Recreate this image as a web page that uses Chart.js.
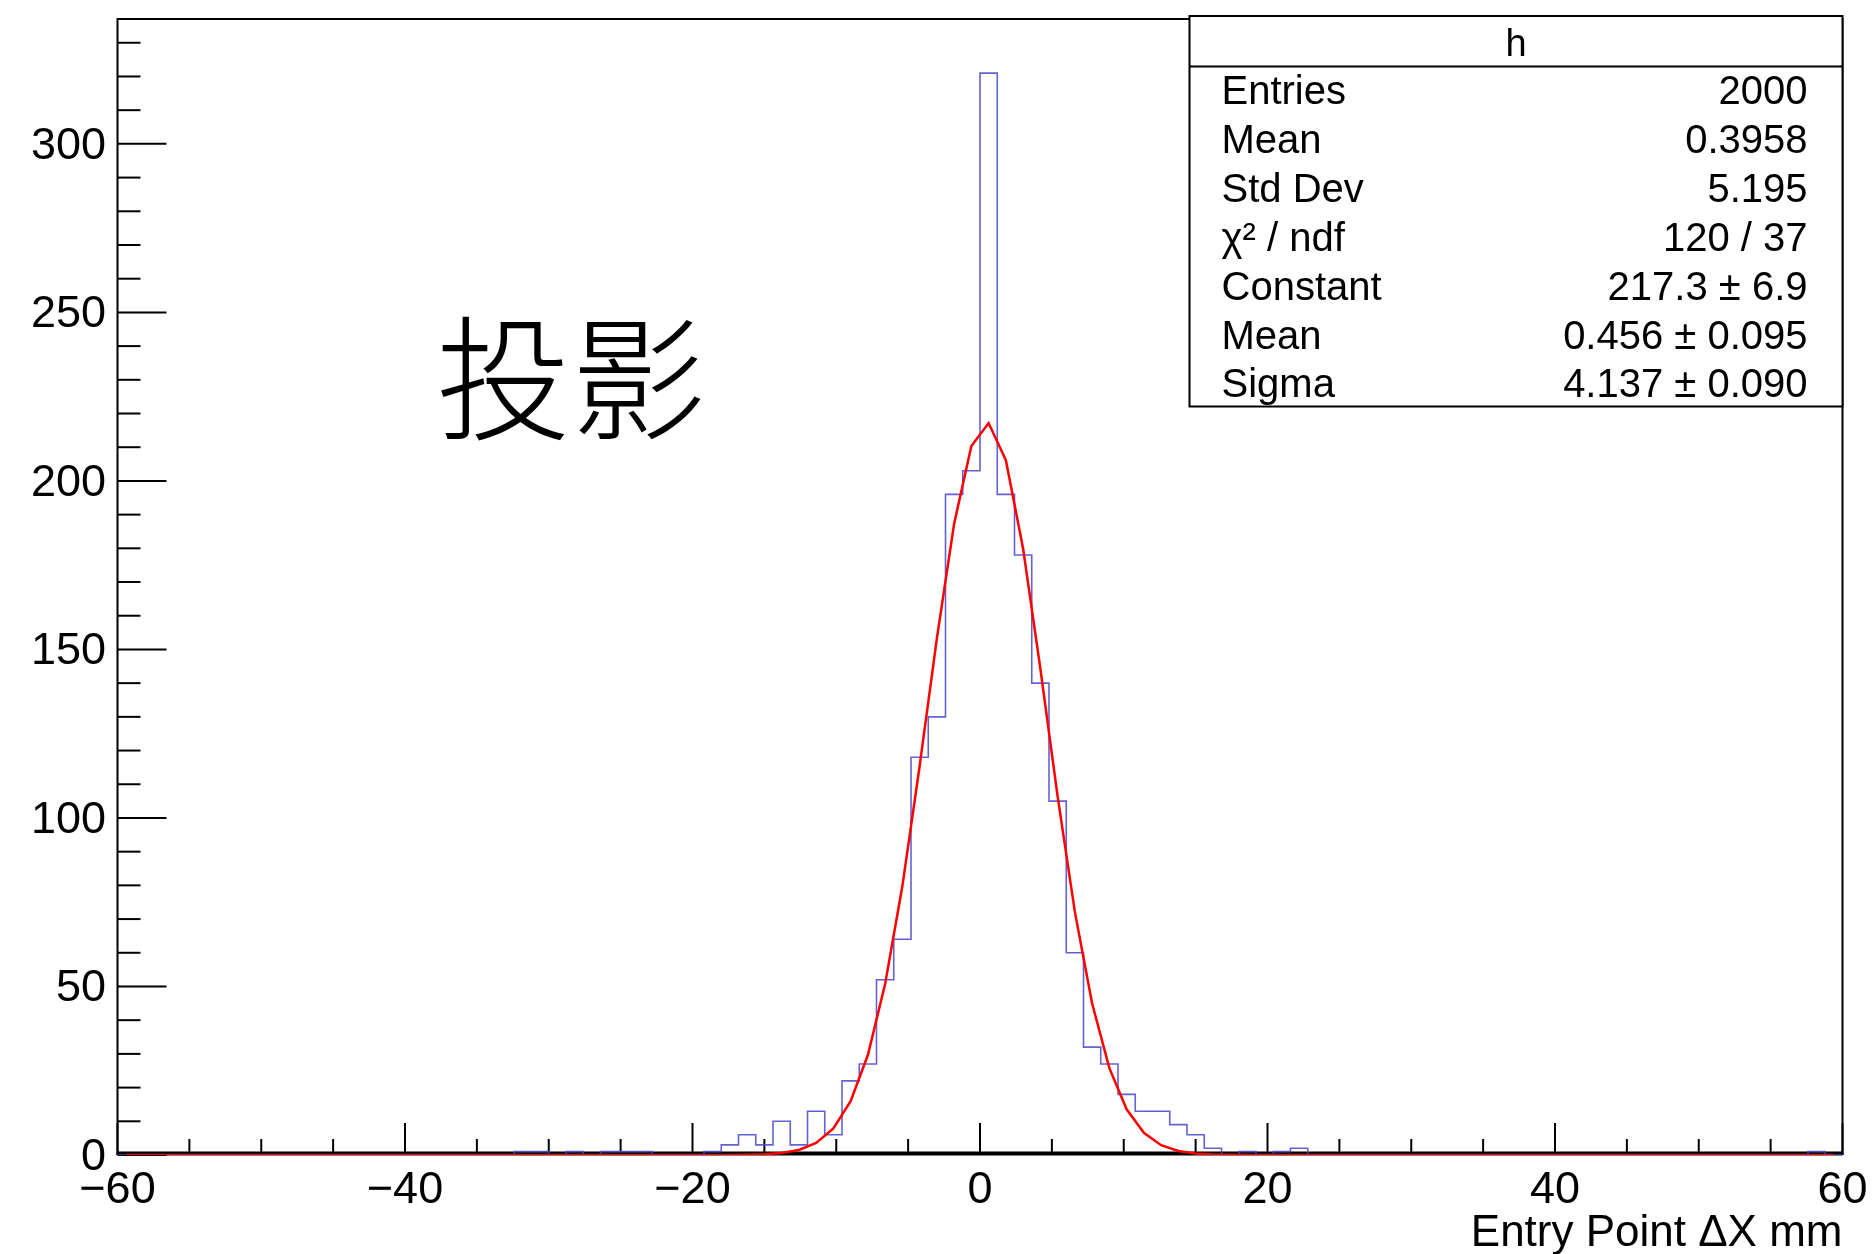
<!DOCTYPE html>
<html>
<head>
<meta charset="utf-8">
<title>Entry Point ΔX</title>
<script src="https://cdn.jsdelivr.net/npm/chart.js@4.4.1/dist/chart.umd.min.js"></script>
<style>
  html, body { margin: 0; padding: 0; background: #fff; }
  canvas { display: block; }
</style>
</head>
<body>
<canvas id="c" width="1875" height="1254" style="width:1875px;height:1254px"></canvas>
<script>
// Binning of the histogram "h": 100 bins of 1.2 mm between -60 and 60
const binLow = -60;
const binWidth = 1.2;
const binCount = 100;

// Entries per bin, left to right
const counts = [
  0, 0, 0, 0, 0, 0, 0, 0, 0, 0,              // -60.0 .. -48.0
  0, 0, 0, 0, 0, 0, 0, 0, 0, 0,              // -48.0 .. -36.0
  0, 0, 0, 1, 1, 0, 1, 0, 1, 1,              // -36.0 .. -24.0
  1, 0, 0, 0, 1, 3, 6, 3, 10, 3,             // -24.0 .. -12.0
  13, 6, 22, 27, 52, 64, 118, 130, 196, 203, // -12.0 ..   0.0
  321, 196, 178, 140, 105, 60, 32, 27, 18, 13, //  0.0 ..  12.0
  13, 9, 6, 2, 0, 1, 0, 1, 2, 0,             //  12.0 ..  24.0
  0, 0, 0, 0, 0, 0, 0, 0, 0, 0,              //  24.0 ..  36.0
  0, 0, 0, 0, 0, 0, 0, 0, 0, 0,              //  36.0 ..  48.0
  0, 0, 0, 0, 0, 0, 0, 0, 1, 0               //  48.0 ..  60.0
];

// Gaussian fit result
const fitConstant = 217.3, fitConstantErr = 6.9;
const fitMean = 0.456, fitMeanErr = 0.095;
const fitSigma = 4.137, fitSigmaErr = 0.090;
const fitChi2 = 120, fitNdf = 37;

// Histogram statistics
const statEntries = 2000;
const statMean = 0.3958;
const statStdDev = 5.195;

// Axis ticks
const xMajorTicks = [-60, -40, -20, 0, 20, 40, 60];
const xMinorStep = 5;
const yMajorTicks = [0, 50, 100, 150, 200, 250, 300];
const yMinorStep = 10;

const histTitle = 'h';
const xAxisTitle = 'Entry Point \u0394X mm';
const noteText = '投影';

const FONT = '"Liberation Sans", Arial, Helvetica, sans-serif';

// ---- derived series ----
const histPoints = counts.map((c, i) => ({ x: binLow + i * binWidth, y: c }));
histPoints.push({ x: binLow + binCount * binWidth, y: counts[binCount - 1] });

// fit function sampled at bin centres, as the fitting package draws it
const gauss = x => fitConstant * Math.exp(-0.5 * Math.pow((x - fitMean) / fitSigma, 2));
const fitPoints = counts.map((_, i) => {
  const x = binLow + (i + 0.5) * binWidth;
  return { x, y: gauss(x) };
});

const xMin = binLow, xMax = binLow + binCount * binWidth;
const yMax = 1.05 * Math.max(...counts);

const xTickValues = [];
for (let v = xMin; v <= xMax; v += xMinorStep) xTickValues.push(v);
const yTickValues = [];
for (let v = 0; v <= yMax; v += yMinorStep) yTickValues.push(v);

const fmtX = v => (v < 0 ? '\u2212' + Math.abs(v) : String(v));

// Frame and inward tick marks
const frameAndTicks = {
  id: 'frameAndTicks',
  beforeDatasetsDraw(chart) {
    const { ctx, chartArea: a } = chart;
    const xs = chart.scales.x, ys = chart.scales.y;
    ctx.save();
    ctx.strokeStyle = '#000';
    ctx.lineCap = 'butt';
    // bottom axis
    ctx.lineWidth = 4;
    ctx.beginPath();
    ctx.moveTo(a.left, a.bottom - 1.5);
    ctx.lineTo(a.right, a.bottom - 1.5);
    ctx.stroke();
    // left axis, top and right frame
    ctx.lineWidth = 2;
    ctx.beginPath();
    ctx.moveTo(a.left, a.bottom);
    ctx.lineTo(a.left, a.top);
    ctx.lineTo(a.right, a.top);
    ctx.lineTo(a.right, a.bottom);
    ctx.stroke();
    // x ticks
    xs.ticks.forEach(t => {
      const px = xs.getPixelForValue(t.value);
      const len = xMajorTicks.includes(t.value) ? 32 : 16;
      ctx.beginPath();
      ctx.moveTo(px, a.bottom);
      ctx.lineTo(px, a.bottom - len);
      ctx.stroke();
    });
    // y ticks
    ys.ticks.forEach(t => {
      const py = ys.getPixelForValue(t.value);
      const len = yMajorTicks.includes(t.value) ? 49 : 23;
      ctx.beginPath();
      ctx.moveTo(a.left, py);
      ctx.lineTo(a.left + len, py);
      ctx.stroke();
    });
    ctx.restore();
  }
};

// Statistics box and annotation text
const statsBox = {
  id: 'statsBox',
  afterDraw(chart) {
    const { ctx, chartArea: a } = chart;
    ctx.save();

    // annotation
    ctx.fillStyle = '#000';
    ctx.font = '300 135px "Noto Sans CJK SC"';
    ctx.textAlign = 'left';
    ctx.textBaseline = 'middle';
    ctx.fillText(noteText, 436, 379);

    const left = 1189.5, right = a.right, top = 16, bottom = 406.5, sep = 66.5;
    ctx.fillStyle = '#fff';
    ctx.fillRect(left, top, right - left, bottom - top);
    ctx.strokeStyle = '#000';
    ctx.lineWidth = 2;
    ctx.strokeRect(left, top, right - left, bottom - top);
    ctx.beginPath();
    ctx.moveTo(left, sep);
    ctx.lineTo(right, sep);
    ctx.stroke();

    ctx.fillStyle = '#000';
    ctx.textBaseline = 'alphabetic';
    ctx.textAlign = 'center';
    ctx.font = '38px ' + FONT;
    ctx.fillText(histTitle, (left + right) / 2, 56);

    const pm = (v, e) => v + ' \u00B1 ' + e;
    const rows = [
      ['Entries', String(statEntries)],
      ['Mean', statMean.toFixed(4)],
      ['Std Dev', statStdDev.toFixed(3)],
      ['\u03C7\u00B2 / ndf', fitChi2 + ' / ' + fitNdf],
      ['Constant', pm(fitConstant.toFixed(1), fitConstantErr.toFixed(1))],
      ['Mean', pm(fitMean.toFixed(3), fitMeanErr.toFixed(3))],
      ['Sigma', pm(fitSigma.toFixed(3), fitSigmaErr.toFixed(3))]
    ];
    ctx.font = '40px ' + FONT;
    rows.forEach((r, i) => {
      const y = 104 + i * 48.9;
      ctx.textAlign = 'left';
      ctx.fillText(r[0], 1221.5, y);
      ctx.textAlign = 'right';
      ctx.fillText(r[1], 1807.5, y);
    });
    ctx.restore();
  }
};

new Chart(document.getElementById('c'), {
  type: 'line',
  data: {
    datasets: [
      {
        label: 'h',
        data: histPoints,
        stepped: 'before',
        borderColor: 'rgba(70, 70, 205, 0.85)',
        borderWidth: 1.6,
        pointRadius: 0,
        fill: false,
        order: 2
      },
      {
        label: 'gaus',
        data: fitPoints,
        borderColor: '#ff0000',
        borderWidth: 2.5,
        pointRadius: 0,
        tension: 0,
        fill: false,
        order: 1
      }
    ]
  },
  options: {
    responsive: false,
    animation: false,
    devicePixelRatio: 1,
    layout: { padding: { top: 19, right: 32.5, left: 0, bottom: 0 } },
    plugins: {
      legend: { display: false },
      tooltip: { enabled: false },
      title: { display: false }
    },
    scales: {
      x: {
        type: 'linear',
        min: xMin,
        max: xMax,
        afterBuildTicks: s => { s.ticks = xTickValues.map(v => ({ value: v })); },
        ticks: {
          autoSkip: false,
          maxRotation: 0,
          minRotation: 0,
          padding: 8.5,
          color: '#000',
          font: { family: FONT, size: 45 },
          callback: v => (xMajorTicks.includes(v) ? fmtX(v) : '')
        },
        grid: { display: false, drawTicks: false },
        border: { display: false },
        title: {
          display: true,
          text: xAxisTitle,
          align: 'end',
          color: '#000',
          font: { family: FONT, size: 44, lineHeight: 1 },
          padding: { top: 0, bottom: -2 }
        },
        afterFit: s => { s.height = 99; s.paddingLeft = 0; s.paddingRight = 0; }
      },
      y: {
        type: 'linear',
        min: 0,
        max: yMax,
        afterBuildTicks: s => { s.ticks = yTickValues.map(v => ({ value: v })); },
        ticks: {
          autoSkip: false,
          padding: 11.5,
          labelOffset: 2.5,
          color: '#000',
          font: { family: FONT, size: 45, lineHeight: 1 },
          callback: v => (yMajorTicks.includes(v) ? String(v) : '')
        },
        grid: { display: false, drawTicks: false },
        border: { display: false },
        afterFit: s => { s.width = 117.5; s.paddingTop = 0; s.paddingBottom = 0; }
      }
    }
  },
  plugins: [frameAndTicks, statsBox]
});
</script>
</body>
</html>
